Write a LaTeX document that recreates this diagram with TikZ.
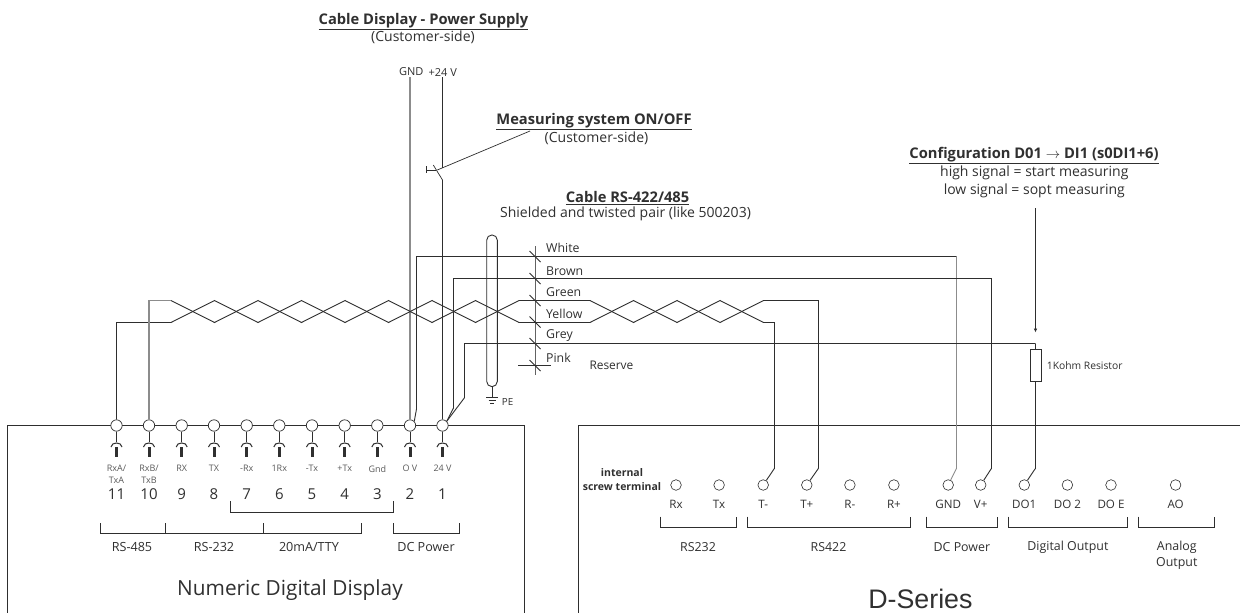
\documentclass[tikz,border=0pt]{standalone}
\usepackage{fontspec}
\setmainfont{Open Sans}
\newfontfamily\arialfont{Liberation Sans}
\usetikzlibrary{arrows.meta}
\definecolor{ink}{HTML}{303030}
\definecolor{wire}{HTML}{2E2E2E}
\definecolor{gwire}{HTML}{8C8C8C}
\newcommand{\fs}[1]{\fontsize{#1}{#1}\selectfont}
\tikzset{
  ln/.style={draw=wire,line width=0.9pt,line join=miter},
  thin wire/.style={draw=gwire,line width=0.9pt},
  thick wire/.style={draw=gwire,line width=1.5pt},
  term/.style={circle,draw=wire,fill=white,line width=0.7pt,minimum size=11.4pt,inner sep=0pt},
  sterm/.style={circle,draw=wire,fill=white,line width=0.6pt,minimum size=10.6pt,inner sep=0pt},
  txt/.style={inner sep=0pt,text=ink,anchor=center,align=center},
  t9/.style={txt,font=\fs{9}},
  t11/.style={txt,font=\fs{11}},
  tg/.style={txt,font=\fs{12.6}},
  tt/.style={txt,font=\fs{11.6}},
  tgs/.style={txt,font=\fs{12.4}},
  t14/.style={txt,font=\fs{14}},
  tb/.style={txt,font=\fs{14.7}\bfseries},
  tl/.style={txt,anchor=west,font=\fs{12.3}},
}
\begin{document}
\begin{tikzpicture}[x=1pt,y=-1pt]
\useasboundingbox (0,0) rectangle (1240,613);
\fill[white] (0,0) rectangle (1240,613);
% housings
\draw[ln] (7.5,613) -- (7.5,425.5) -- (524.5,425.5) -- (524.5,613);
\draw[ln] (578.5,613) -- (578.5,425.5) -- (1240,425.5);
% display terminals
\foreach \n/\x/\a/\b in {11/116.5/RxA\slash/TxA,10/149/RxB\slash/TxB,9/181.7/RX/,8/214/TX/,7/246.7/-Rx/,6/279.3/1Rx/,5/312/-Tx/,4/344.7/+Tx/,3/377.3/Gnd/,2/410/O V/,1/442.5/24 V/}{
  \node[term] (d\n) at (\x,425.5) {};
  \draw[ln,line width=0.8pt] (d\n.south) -- ++(0,10.5);
  \draw[ln,line width=1pt] (\x-5.5,447) .. controls (\x-5,441.6) and (\x+5,441.6) .. (\x+5.5,447);
  \fill[ink] (\x-1.5,446.7) rectangle (\x+1.5,457.3);
  \node[t9,text=ink!80] (da\n) at (\x,468.7) {\a};
  \node[t9,text=ink!80] (db\n) at (\x,480) {\b};
  \node[txt,font=\fs{15}] (dn\n) at (\x,494.5) {\n};
}
% D-series terminals
\foreach \n/\x/\t in {rx/676/Rx,tx/719.1/Tx,tm/763.2/T-,tp/806.8/T+,rm/849.9/R-,rp/893.9/R+,gn/948.2/GND,vp/980.7/V+,do1/1024.3/DO1,do2/1067.4/DO 2,doe/1111/DO E,ao/1175.6/AO}{
  \node[sterm] (s\n) at (\x,485) {};
  \node[tt] (sl\n) at (\x,504) {\t};
}
\node[txt,font=\fs{10.5}\bfseries] (intl) at (622,472.7) {internal};
\node[txt,font=\fs{10.5}\bfseries] (scrw) at (622,486.7) {screw terminal};
% brackets
\draw[ln,line width=0.8pt] (230.5,501) -- (230.5,512.5) -- (393.5,512.5) -- (393.5,501);
\draw[ln,line width=0.8pt] (100.5,523.3) -- (100.5,533.5) -- (361.5,533.5) -- (361.5,523.3);
\draw[ln,line width=0.8pt] (165.5,523.3) -- (165.5,533.5) (263.5,523.3) -- (263.5,533.5);
\draw[ln,line width=0.8pt] (393.5,523.3) -- (393.5,533.5) -- (459,533.5) -- (459,523.3);
\foreach \a/\b in {660.5/736.5,747.5/910.5,926.5/997.5,1008.5/1127.5,1138.5/1214.5}
  \draw[ln,line width=0.8pt] (\a,516.7) -- (\a,527.5) -- (\b,527.5) -- (\b,516.7);
% group labels
\node[tg] (g1) at (132,547) {RS-485};
\node[tg] (g2) at (214,547) {RS-232};
\node[tg] (g3) at (309,547) {20mA/TTY};
\node[tg] (g4) at (426,547) {DC Power};
\node[tgs] (g5) at (698,547) {RS232};
\node[tgs] (g6) at (828.5,547) {RS422};
\node[tgs] (g7) at (961.9,547) {DC Power};
\node[tgs] (g8) at (1067.9,547) {Digital Output};
\node[tgs] (g9) at (1176.8,547) {Analog};
\node[tgs] (g10) at (1176.8,563) {Output};
\node[txt,font=\fs{20.8}] (dispname) at (290,590.5) {Numeric Digital Display};
\node[txt,font=\arialfont\fs{26.8}] (dsname) at (920.4,598.5) {D-Series};
% titles
\node[tb] (c1) at (423.5,21.5) {\underline{Cable Display - Power Supply}};
\node[t14] (c2) at (423,37.5) {(Customer-side)};
\node[t11] (gndl) at (411.3,71.7) {GND};
\node[t11] (vl) at (442.7,72.5) {+24 V};
\node[tb] (m1) at (594,121.5) {\underline{Measuring system ON/OFF}};
\node[t14] (m2) at (596.5,138) {(Customer-side)};
\node[tb] (k1) at (627.5,198) {\underline{Cable RS-422/485}};
\node[t14] (k2) at (625.5,213.5) {Shielded and twisted pair (like 500203)};
\node[tb] (f1) at (1034,155.5) {\underline{Configuration D01 \ensuremath{\rightarrow} DI1 (s0DI1+6)}};
\node[t14] (f2) at (1034.3,172.5) {high signal = start measuring};
\node[t14] (f3) at (1034.3,190.5) {low signal = sopt measuring};
% colour labels
\node[tl] (w1) at (546,248.3) {White};
\node[tl] (w2) at (546,271) {Brown};
\node[tl] (w3) at (546,292) {Green};
\node[tl] (w4) at (546,314) {Yellow};
\node[tl] (w5) at (546,336) {Grey};
\node[tl] (w6) at (546,357.5) {Pink};
\node[tl,font=\fs{11.9}] (rsv) at (589.3,365.7) {Reserve};
\node[txt,anchor=west,font=\fs{10.3}] (rl) at (1046.7,365.7) {1Kohm Resistor};
\node[txt,anchor=west,font=\fs{9.8}] (pe) at (501.7,401.5) {PE};
% power wires
\draw[thick wire] (410,77) -- (d2.north);
\coordinate (swa) at (442.5,168);
\coordinate (swb) at (442.5,180);
\draw[ln] (442.5,77) -- (swa);
\draw[ln] (swb) -- (d1.north);
\draw[ln,line width=0.7pt] (swb) -- (433.3,165);
\draw[ln,line width=0.7pt] (426.7,166) -- (426.7,173) (426.7,170) -- (436,170);
\draw[ln,line width=0.7pt] (437.3,170) -- (530,131);
% twisted pair
\draw[ln] (d11.north) -- (116.5,322.5) -- (171,322.5) -- (214.5,300.5) -- (258,322.5) -- (301.5,300.5) -- (345,322.5) -- (388.5,300.5) -- (432,322.5) -- (475.5,300.5) -- (519,322.5) -- (590,322.5) -- (633.5,300.5) -- (677,322.5) -- (720,300.5) -- (763.5,322.5) -- (774.5,322.5) -- (774.5,468.3) -- (stm);
\draw[ln] (171,300.5) -- (214.5,322.5) -- (258,300.5) -- (301.5,322.5) -- (345,300.5) -- (388.5,322.5) -- (432,300.5) -- (475.5,322.5) -- (519,300.5) -- (590,300.5) -- (633.5,322.5) -- (677,300.5) -- (720,322.5) -- (763.5,300.5) -- (818.5,300.5) -- (818.5,468.3) -- (stp);
\draw[thin wire,line width=1.2pt] (d10.north) -- (149,300.5) -- (171,300.5);
% power feeds
\draw[ln] (d2.45) -- (416.5,409) -- (416.5,256.5) -- (956.5,256.5);
\draw[thin wire] (956.5,256.5) -- (956.5,468.3) -- (sgn);
\draw[ln] (d1.45) -- (453.5,408) -- (453.5,278.5) -- (991.5,278.5) -- (991.5,468.3) -- (svp);
\coordinate (rtop) at (1035.5,343.5);
\draw[ln] (d1.45) -- (464.5,397.7) -- (464.5,343.5) -- (rtop);
% resistor
\node[draw=wire,fill=white,line width=0.9pt,minimum width=11pt,minimum height=32.7pt,inner sep=0pt] (res) at (1035.5,365.3) {};
\draw[ln] (rtop) -- (res.north);
\draw[ln] (res.south) -- (1035.5,468.3) -- (sdo1);
\coordinate (arrs) at (1035.5,208);
\draw[ln,line width=0.8pt,-{Latex[length=4pt,width=3.6pt]}] (arrs) -- (1035.5,332.5);
% bus and ticks
\draw[draw=gwire!70!black,line width=1pt] (535,246) -- (535,375);
\draw[ln] (518.3,365.5) -- (551,365.5);
\foreach \y in {256.5,278.5,300.5,322,343.5,365.5}
  \draw[ln,line width=0.8pt] (529.5,\y-5.5) -- (540.5,\y+5.5);
% shield and earth
\node[draw=wire,line width=0.9pt,rounded corners=5.2pt,minimum width=10.6pt,minimum height=151.7pt,inner sep=0pt] (shield) at (492,310.8) {};
\draw[ln,line width=0.8pt] (shield.south) -- (492,397.7) (486,397.7) -- (498,397.7) (488.5,400.7) -- (495.5,400.7) (490,403.7) -- (494,403.7);
\end{tikzpicture}
\end{document}
